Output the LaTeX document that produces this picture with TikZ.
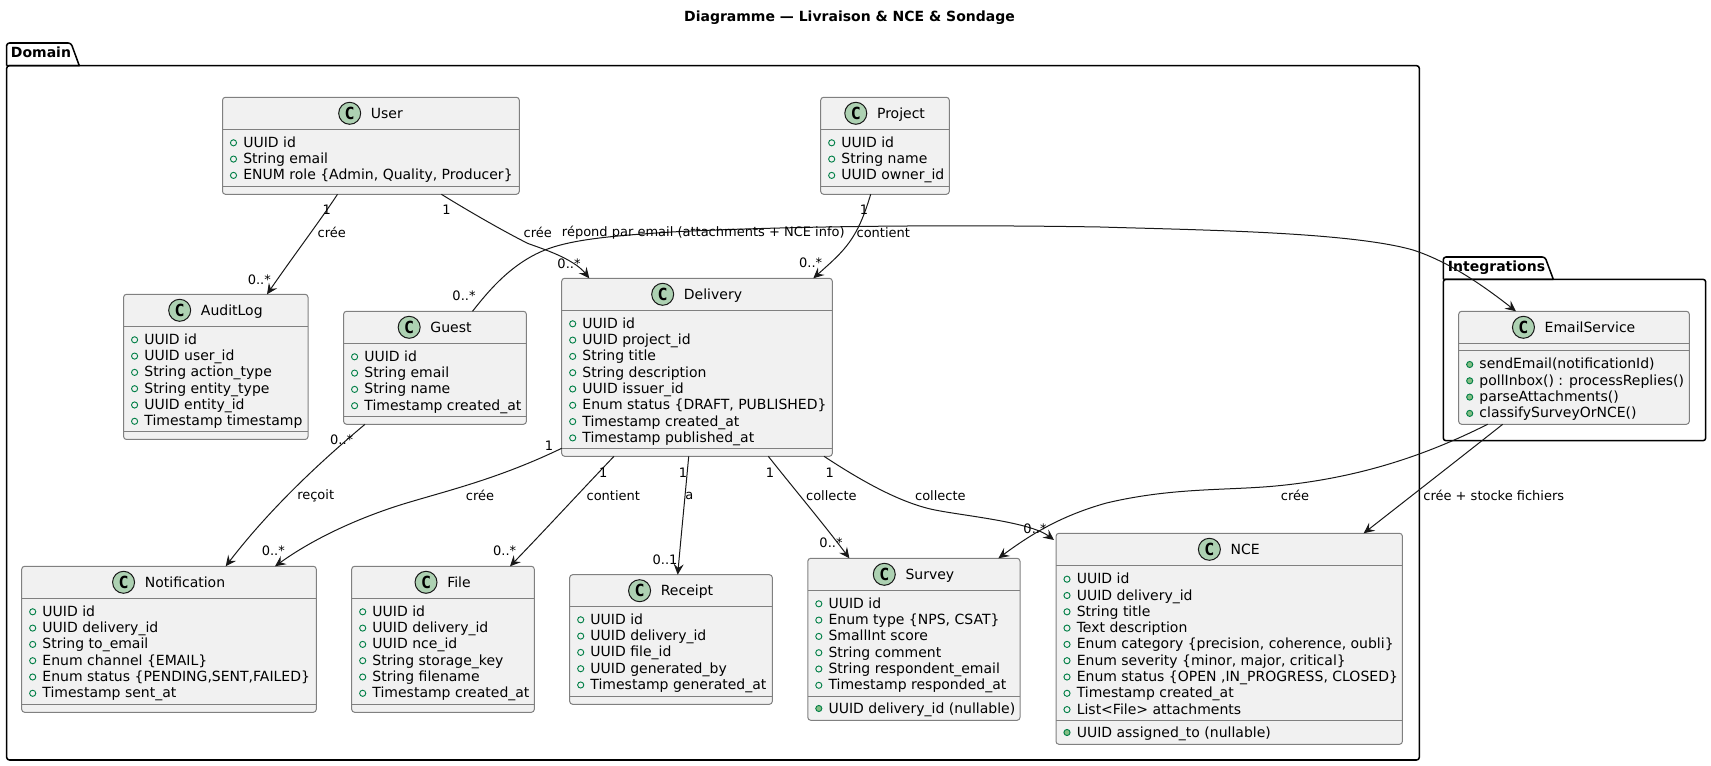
\documentclass[tikz,border=0pt]{standalone}
\usepackage{fontspec}
\setmainfont{DejaVu Sans}
\newfontfamily\cfont{DejaVu Sans Mono}
\usetikzlibrary{calc,arrows.meta}
\definecolor{boxfill}{HTML}{F1F1F1}
\definecolor{boxline}{HTML}{808080}
\definecolor{edgec}{HTML}{181818}
\definecolor{circfill}{HTML}{ADD1B2}
\definecolor{pubgreen}{HTML}{038048}
\definecolor{metfill}{HTML}{84BE84}
\tikzset{
  x=0.75pt,y=-0.75pt,
  classbox/.style={draw=boxline,fill=boxfill,line width=0.75pt,rounded corners=2.2pt,inner sep=0pt,outer sep=0pt},
  sepline/.style={draw=boxline,line width=0.75pt},
  ccircle/.style={circle,draw=edgec,fill=circfill,line width=0.75pt,minimum size=16.5pt,inner sep=0pt,font=\cfont\bfseries\fontsize{12.5pt}{12.5pt}\selectfont},
  ctitle/.style={inner sep=0pt,anchor=base,font=\fontsize{10.5pt}{12pt}\selectfont},
  rowtext/.style={inner sep=0pt,anchor=base west,font=\fontsize{10.5pt}{12pt}\selectfont,text=black},
  fieldmark/.style={circle,draw=pubgreen,fill=none,line width=0.7pt,minimum size=4.6pt,inner sep=0pt},
  methmark/.style={circle,draw=pubgreen,fill=metfill,line width=0.7pt,minimum size=4.6pt,inner sep=0pt},
  pkg/.style={draw=black,line width=1.15pt,line join=round},
  pkgtitle/.style={inner sep=0pt,anchor=base west,font=\bfseries\fontsize{10.5pt}{12pt}\selectfont},
  edge/.style={draw=edgec,line width=0.75pt,-{Stealth[length=8pt,width=7.5pt,inset=3pt]}},
  elabel/.style={inner sep=0pt,font=\fontsize{9.75pt}{11pt}\selectfont,text=black},
}
% \umlclass{id}{x1}{y1}{x2}{y2}{yheader}{title}
\newcommand{\umlclass}[7]{%
  \pgfmathsetmacro{\cxm}{(#2+#4)/2}\pgfmathsetmacro{\cym}{(#3+#5)/2}%
  \pgfmathsetmacro{\cw}{(#4-#2)*0.75}\pgfmathsetmacro{\ch}{(#5-#3)*0.75}%
  \node[classbox,minimum width=\cw pt,minimum height=\ch pt] (#1) at (\cxm,\cym) {};
  \node[ctitle] (#1-t) at (\cxm,#3+21) {\hspace*{24pt}#7};
  \node[ccircle] (#1-c) at ($(#1-t.base west)+(11,-5)$) {C};
  \draw[sepline] (#2,#6) -- (#4,#6);
}
% \umlrows{id}{x1}{first baseline}{marker style}{list}
\newcounter{rowc}
\newcommand{\umlrows}[5]{%
  \setcounter{rowc}{0}%
  \foreach \rowtxt in {#5}{%
    \stepcounter{rowc}%
    \pgfmathsetmacro{\yy}{#3+(\value{rowc}-1)*16.3}%
    \node[#4] (#1-\therowc m) at (#2+11,\yy-4.5) {};
    \node[rowtext] (#1-\therowc t) at (#2+20.5,\yy) {\rowtxt};
  }%
}
\begin{document}
\begin{tikzpicture}
\useasboundingbox (0,0) rectangle (1711,766);
\node[inner sep=0pt,font=\bfseries\fontsize{10.5pt}{12pt}\selectfont] (title) at (849.5,18) {Diagramme — Livraison \& NCE \& Sondage};
% packages
\draw[pkg] (6.7,65.7) -- (6.7,45) [rounded corners=2pt] -- (6.7,43) -- (71,43) [sharp corners] -- (79.3,65.7) -- (6.7,65.7);
\draw[pkg,rounded corners=2pt] (6.7,65.7) -- (1419.3,65.7) -- (1419.3,760) -- (6.7,760) -- cycle;
\node[pkgtitle] (domainT) at (10.7,57.7) {Domain};
\draw[pkg] (1443.3,279.3) -- (1443.3,259) [rounded corners=2pt] -- (1443.3,257) -- (1545,257) [sharp corners] -- (1553.3,279.3) -- (1443.3,279.3);
\draw[pkg,rounded corners=2pt] (1443.3,279.3) -- (1705.7,279.3) -- (1705.7,440.7) -- (1443.3,440.7) -- cycle;
\node[pkgtitle] (integT) at (1447.7,271.7) {Integrations};
% classes
\umlclass{user}{222.5}{97.3}{519.3}{194.3}{129.3}{User}
\draw[sepline] (222.5,186.5) -- (519.3,186.5);
\umlrows{user}{222.5}{147.3}{fieldmark}{UUID id,String email,{ENUM role \{Admin, Quality, Producer\}}}

\umlclass{project}{820.7}{97.3}{949.3}{194.3}{129.3}{Project}
\draw[sepline] (820.7,186.5) -- (949.3,186.5);
\umlrows{project}{820.7}{147.3}{fieldmark}{UUID id,String name,UUID owner\_id}

\umlclass{audit}{123.6}{294.3}{308}{439.5}{326.3}{AuditLog}
\draw[sepline] (123.6,431.5) -- (308,431.5);
\umlrows{audit}{123.6}{344.3}{fieldmark}{UUID id,UUID user\_id,String action\_type,String entity\_type,UUID entity\_id,Timestamp timestamp}

\umlclass{guest}{343.6}{311.3}{526.4}{424.3}{343.3}{Guest}
\draw[sepline] (343.6,416.3) -- (526.4,416.3);
\umlrows{guest}{343.6}{361.3}{fieldmark}{UUID id,String email,String name,Timestamp created\_at}

\umlclass{delivery}{561.7}{278.3}{832.3}{456.3}{310.3}{Delivery}
\draw[sepline] (561.7,448.3) -- (832.3,448.3);
\umlrows{delivery}{561.7}{328.3}{fieldmark}{UUID id,UUID project\_id,String title,String description,UUID issuer\_id,{Enum status \{DRAFT, PUBLISHED\}},Timestamp created\_at,Timestamp published\_at}

\umlclass{notif}{21.7}{566.3}{316.3}{712.3}{598.3}{Notification}
\draw[sepline] (21.7,704.3) -- (316.3,704.3);
\umlrows{notif}{21.7}{616.3}{fieldmark}{UUID id,UUID delivery\_id,String to\_email,{Enum channel \{EMAIL\}},{Enum status \{PENDING,SENT,FAILED\}},Timestamp sent\_at}

\umlclass{file}{351.7}{566.3}{534.3}{712.3}{598.3}{File}
\draw[sepline] (351.7,704.3) -- (534.3,704.3);
\umlrows{file}{351.7}{616.3}{fieldmark}{UUID id,UUID delivery\_id,UUID nce\_id,String storage\_key,String filename,Timestamp created\_at}

\umlclass{receipt}{569.7}{574.7}{772.3}{704.3}{606.3}{Receipt}
\draw[sepline] (569.7,696.3) -- (772.3,696.3);
\umlrows{receipt}{569.7}{624.3}{fieldmark}{UUID id,UUID delivery\_id,UUID file\_id,UUID generated\_by,Timestamp generated\_at}

\umlclass{survey}{807.8}{558.3}{1020}{720.3}{590.3}{Survey}
\draw[sepline] (807.8,696.3) -- (1020,696.3);
\umlrows{survey}{807.8}{608.3}{fieldmark}{UUID id,{Enum type \{NPS, CSAT\}},SmallInt score,String comment,String respondent\_email,Timestamp responded\_at}
\node[methmark] (survey-mm) at (818.8,708.5) {};
\node[rowtext] (survey-mt) at (828.3,713) {UUID delivery\_id (nullable)};

\umlclass{nce}{1056}{533.3}{1402.4}{744.3}{565.7}{NCE}
\draw[sepline] (1056,720.3) -- (1402.4,720.3);
\umlrows{nce}{1056}{583.7}{fieldmark}{UUID id,UUID delivery\_id,String title,Text description,{Enum category \{precision, coherence, oubli\}},{Enum severity \{minor, major, critical\}},{Enum status \{OPEN ,IN\_PROGRESS, CLOSED\}},Timestamp created\_at,List<File> attachments}
\node[methmark] (nce-mm) at (1067,732.5) {};
\node[rowtext] (nce-mt) at (1076.5,737) {UUID assigned\_to (nullable)};

\umlclass{email}{1458.7}{311.3}{1689.3}{424.3}{343.3}{EmailService}
\draw[sepline] (1458.7,351) -- (1689.3,351);
\umlrows{email}{1458.7}{369}{methmark}{sendEmail(notificationId),pollInbox() : processReplies(),parseAttachments(),classifySurveyOrNCE()}

% connectors
\draw[edge] ($(user.south west)+(115,0)$) .. controls (322,218) and (292,258) .. ($(audit.north west)+(143.4,0)$);
\draw[edge] ($(user.south west)+(218.9,0)$) .. controls (470,212) and (505,232) .. (528,243.5) .. controls (540,248) and (573,258) .. ($(delivery.north west)+(27.6,0)$);
\draw[edge] ($(guest.north west)+(128.9,0)$) .. controls (487,293) and (510,264) .. (545,250) .. controls (575,238) and (625,235) .. (680,231.5) .. controls (800,226) and (950,224.5) .. (1100,227) .. controls (1200,230) and (1350,232) .. (1413,250) .. controls (1450,262) and (1485,287) .. ($(email.north west)+(57.3,0)$);
\draw[edge] ($(project.south west)+(50,0)$) .. controls (857,240) and (845,250) .. ($(delivery.north west)+(251.6,0)$);
\draw[edge] ($(guest.south west)+(21.4,0)$) .. controls (332,452) and (275,502) .. ($(notif.north west)+(204,0)$);
\draw[edge] ($(delivery.south west)+(0,-8)$) .. controls (500,478) and (450,490) .. (406.7,503) .. controls (370,514) and (320,534) .. ($(notif.north west)+(253.3,0)$);
\draw[edge] ($(delivery.south west)+(52.3,0)$) .. controls (580,492) and (545,530) .. ($(file.north west)+(158.3,0)$);
\draw[edge] ($(delivery.south west)+(127,0)$) .. controls (685,497) and (681,537) .. ($(receipt.north west)+(108,0)$);
\draw[edge] ($(delivery.south west)+(206.6,0)$) .. controls (795,490) and (822,522) .. ($(survey.north west)+(41.6,0)$);
\draw[edge] ($(delivery.south west)+(262.3,0)$) .. controls (860,480) and (900,503) .. (935,510) .. controls (965,516) and (1030,522) .. ($(nce.north west)+(-2,6.7)$);
\draw[edge] ($(email.south west)+(29,0)$) .. controls (1440,448) and (1370,478) .. (1270,486.5) .. controls (1220,490.5) and (1170,488) .. (1106.5,503) .. controls (1060,516) and (1030,535) .. ($(survey.north west)+(190.6,0)$);
\draw[edge] ($(email.south west)+(44,0)$) .. controls (1455,462) and (1410,497) .. ($(nce.north west)+(307.7,0)$);

% labels
\node[elabel] (l1) at (326.8,210) {1};
\node[elabel] (l2) at (331.8,232.7) {crée};
\node[elabel] (l3) at (259.3,279.3) {0..*};
\node[elabel] (l4) at (446.4,210) {1};
\node[elabel] (l5) at (537.7,232.7) {crée};
\node[elabel] (l6) at (569,263.3) {0..*};
\node[elabel] (l7) at (464,295.7) {0..*};
\node[elabel] (l8) at (703.3,232.7) {répond par email (attachments + NCE info)};
\node[elabel] (l9) at (883.3,232.7) {contient};
\node[elabel] (l10) at (864,209.3) {1};
\node[elabel] (l11) at (810.7,262.3) {0..*};
\node[elabel] (l12) at (549,445.7) {1};
\node[elabel] (l13) at (480,495.7) {crée};
\node[elabel] (l14) at (273.3,551) {0..*};
\node[elabel] (l15) at (603.3,472.7) {1};
\node[elabel] (l16) at (613.3,495.7) {contient};
\node[elabel] (l17) at (504.7,550.3) {0..*};
\node[elabel] (l18) at (683,472.7) {1};
\node[elabel] (l19) at (689.3,495.7) {a};
\node[elabel] (l20) at (665,559.3) {0..1};
\node[elabel] (l21) at (770,472.7) {1};
\node[elabel] (l22) at (831.4,495.7) {collecte};
\node[elabel] (l23) at (831,542.3) {0..*};
\node[elabel] (l24) at (829.8,472.7) {1};
\node[elabel] (l25) at (940.4,495.7) {collecte};
\node[elabel] (l26) at (1035,528.3) {0..*};
\node[elabel] (l27) at (1295,495.7) {crée};
\node[elabel] (l28) at (1493.8,495.7) {crée + stocke fichiers};
\node[elabel] (l29) at (341.7,439.3) {0..*};
\node[elabel] (l30) at (315.7,495.7) {reçoit};
\end{tikzpicture}
\end{document}
